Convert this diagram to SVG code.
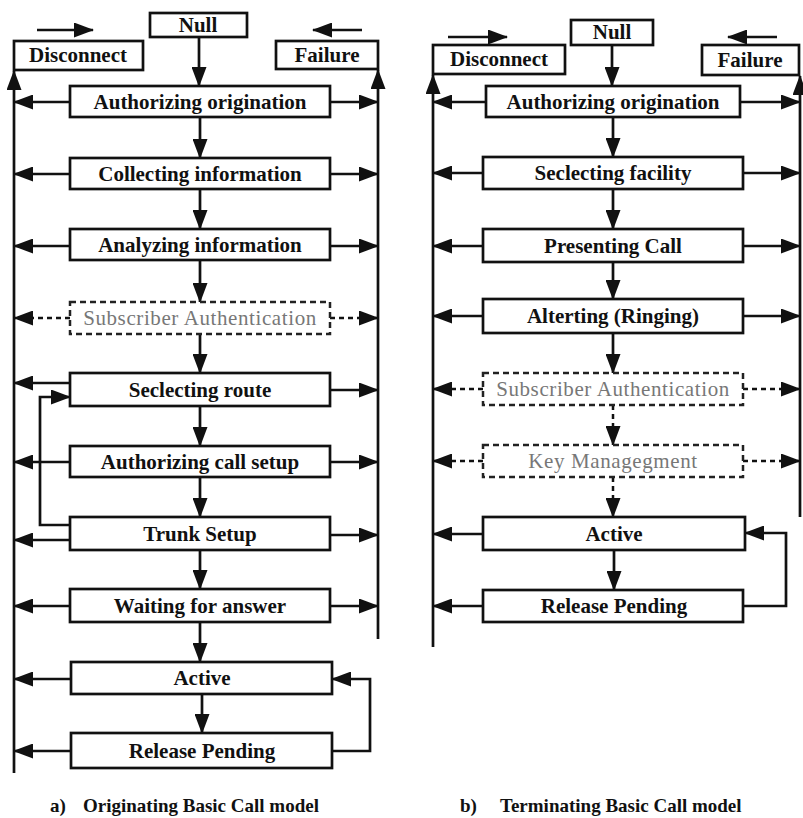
<svg xmlns="http://www.w3.org/2000/svg" width="803" height="818" viewBox="0 0 803 818">
<style>
.box{fill:#fff;stroke:#111;stroke-width:2.7}
.dbox{fill:#fff;stroke:#222;stroke-width:2.5;stroke-dasharray:6 4}
.t{font-family:"Liberation Serif","Times New Roman",serif;font-weight:bold;font-size:21px;text-anchor:middle;fill:#111}
.d{font-family:"Liberation Serif","Times New Roman",serif;font-size:21px;text-anchor:middle;fill:#777;letter-spacing:0.6px}
.cap{font-family:"Liberation Serif","Times New Roman",serif;font-weight:bold;font-size:19px;fill:#111}
.c{stroke:#111;stroke-width:2.7;fill:none;marker-end:url(#ah)}
.cd{stroke:#111;stroke-width:2.5;fill:none;stroke-dasharray:5 4;marker-end:url(#ah)}
</style>
<defs>
<marker id="ah" markerWidth="20" markerHeight="15" refX="19" refY="7.5" orient="auto" markerUnits="userSpaceOnUse">
<path d="M0,0 L20,7.5 L0,15 z" fill="#111"/>
</marker>
</defs>
<rect width="803" height="818" fill="#fff"/>

<g id="connectors">
<!-- left diagram -->
<line class="c" x1="37" y1="30" x2="93" y2="30"/>
<line class="c" x1="362" y1="30" x2="313" y2="30"/>
<line class="c" x1="14" y1="773" x2="14" y2="71"/>
<line class="c" x1="378" y1="639" x2="378" y2="70"/>
<line class="c" x1="199" y1="37" x2="199" y2="86"/>
<line class="c" x1="200" y1="117" x2="200" y2="158"/>
<line class="c" x1="200" y1="189" x2="200" y2="229"/>
<line class="c" x1="200" y1="260" x2="200" y2="302"/>
<line class="c" x1="200" y1="334" x2="200" y2="373"/>
<line class="c" x1="200" y1="406" x2="200" y2="446"/>
<line class="c" x1="200" y1="477" x2="200" y2="517"/>
<line class="c" x1="200" y1="550" x2="200" y2="589"/>
<line class="c" x1="200" y1="622" x2="200" y2="662"/>
<line class="c" x1="202" y1="694" x2="202" y2="733"/>
<line class="c" x1="70" y1="102" x2="14" y2="102"/>
<line class="c" x1="330" y1="102" x2="378" y2="102"/>
<line class="c" x1="70" y1="174" x2="14" y2="174"/>
<line class="c" x1="330" y1="174" x2="378" y2="174"/>
<line class="c" x1="70" y1="246" x2="14" y2="246"/>
<line class="c" x1="330" y1="246" x2="378" y2="246"/>
<line class="cd" x1="70" y1="318" x2="14" y2="318"/>
<line class="cd" x1="330" y1="318" x2="378" y2="318"/>
<line class="c" x1="70" y1="383" x2="14" y2="383"/>
<line class="c" x1="330" y1="390" x2="378" y2="390"/>
<line class="c" x1="70" y1="462" x2="14" y2="462"/>
<line class="c" x1="330" y1="462" x2="378" y2="462"/>
<line class="c" x1="70" y1="540" x2="14" y2="540"/>
<line class="c" x1="330" y1="535" x2="378" y2="535"/>
<polyline class="c" points="70,525 40,525 40,397 70,397"/>
<line class="c" x1="70" y1="606" x2="14" y2="606"/>
<line class="c" x1="330" y1="606" x2="378" y2="606"/>
<line class="c" x1="71" y1="679" x2="14" y2="679"/>
<line class="c" x1="71" y1="751" x2="14" y2="751"/>
<polyline class="c" points="332,751 370,751 370,679 332,679"/>

<!-- right diagram -->
<line class="c" x1="448" y1="37" x2="507" y2="37"/>
<line class="c" x1="777" y1="37" x2="728" y2="37"/>
<line class="c" x1="433" y1="647" x2="433" y2="75"/>
<line class="c" x1="800" y1="517" x2="800" y2="76"/>
<line class="c" x1="612" y1="45" x2="612" y2="86"/>
<line class="c" x1="613" y1="117" x2="613" y2="157"/>
<line class="c" x1="613" y1="189" x2="613" y2="229"/>
<line class="c" x1="613" y1="262" x2="613" y2="299"/>
<line class="c" x1="613" y1="333" x2="613" y2="373"/>
<line class="cd" x1="613" y1="405" x2="613" y2="445"/>
<line class="cd" x1="613" y1="477" x2="613" y2="517"/>
<line class="c" x1="614" y1="550" x2="614" y2="590"/>
<line class="c" x1="486" y1="102" x2="433" y2="102"/>
<line class="c" x1="740" y1="102" x2="800" y2="102"/>
<line class="c" x1="483" y1="173" x2="433" y2="173"/>
<line class="c" x1="743" y1="173" x2="800" y2="173"/>
<line class="c" x1="483" y1="246" x2="433" y2="246"/>
<line class="c" x1="743" y1="246" x2="800" y2="246"/>
<line class="c" x1="483" y1="316" x2="433" y2="316"/>
<line class="c" x1="743" y1="316" x2="800" y2="316"/>
<line class="cd" x1="483" y1="389" x2="433" y2="389"/>
<line class="cd" x1="743" y1="389" x2="800" y2="389"/>
<line class="cd" x1="483" y1="461" x2="433" y2="461"/>
<line class="cd" x1="743" y1="461" x2="800" y2="461"/>
<line class="c" x1="483" y1="534" x2="433" y2="534"/>
<line class="c" x1="483" y1="606" x2="433" y2="606"/>
<polyline class="c" points="743,606 786,606 786,533 745,533"/>
</g>

<!-- left nodes -->
<g id="a-null"><rect class="box" x="150" y="13" width="97" height="24"/><text class="t" x="198" y="32">Null</text></g>
<g id="a-disconnect"><rect class="box" x="14" y="41" width="129" height="29"/><text class="t" x="78" y="62">Disconnect</text></g>
<g id="a-failure"><rect class="box" x="276" y="41" width="102" height="28"/><text class="t" x="327" y="62">Failure</text></g>
<g id="a-auth-orig"><rect class="box" x="70" y="86" width="260" height="31"/><text class="t" x="200" y="109">Authorizing origination</text></g>
<g id="a-collecting"><rect class="box" x="70" y="158" width="260" height="31"/><text class="t" x="200" y="181">Collecting information</text></g>
<g id="a-analyzing"><rect class="box" x="70" y="229" width="260" height="31"/><text class="t" x="200" y="252">Analyzing information</text></g>
<g id="a-subauth"><rect class="dbox" x="70" y="302" width="260" height="32"/><text class="d" x="200" y="325">Subscriber Authentication</text></g>
<g id="a-route"><rect class="box" x="70" y="373" width="260" height="33"/><text class="t" x="200" y="397">Seclecting route</text></g>
<g id="a-auth-call"><rect class="box" x="70" y="446" width="260" height="31"/><text class="t" x="200" y="469">Authorizing call setup</text></g>
<g id="a-trunk"><rect class="box" x="70" y="517" width="260" height="33"/><text class="t" x="200" y="541">Trunk Setup</text></g>
<g id="a-waiting"><rect class="box" x="70" y="589" width="260" height="33"/><text class="t" x="200" y="613">Waiting for answer</text></g>
<g id="a-active"><rect class="box" x="71" y="662" width="261" height="32"/><text class="t" x="202" y="685">Active</text></g>
<g id="a-release"><rect class="box" x="71" y="733" width="261" height="35"/><text class="t" x="202" y="758">Release Pending</text></g>

<!-- right nodes -->
<g id="b-null"><rect class="box" x="571" y="20" width="82" height="25"/><text class="t" x="612" y="39">Null</text></g>
<g id="b-disconnect"><rect class="box" x="433" y="45" width="132" height="29"/><text class="t" x="499" y="66">Disconnect</text></g>
<g id="b-failure"><rect class="box" x="702" y="45" width="97" height="30"/><text class="t" x="750" y="67">Failure</text></g>
<g id="b-auth-orig"><rect class="box" x="486" y="86" width="254" height="31"/><text class="t" x="613" y="109">Authorizing origination</text></g>
<g id="b-facility"><rect class="box" x="483" y="157" width="260" height="32"/><text class="t" x="613" y="180">Seclecting facility</text></g>
<g id="b-presenting"><rect class="box" x="483" y="229" width="260" height="33"/><text class="t" x="613" y="253">Presenting Call</text></g>
<g id="b-alerting"><rect class="box" x="483" y="299" width="260" height="34"/><text class="t" x="613" y="323">Alterting (Ringing)</text></g>
<g id="b-subauth"><rect class="dbox" x="483" y="373" width="260" height="32"/><text class="d" x="613" y="396">Subscriber Authentication</text></g>
<g id="b-keymgmt"><rect class="dbox" x="483" y="445" width="260" height="32"/><text class="d" x="613" y="468">Key Managegment</text></g>
<g id="b-active"><rect class="box" x="483" y="517" width="262" height="33"/><text class="t" x="614" y="541">Active</text></g>
<g id="b-release"><rect class="box" x="483" y="590" width="260" height="32"/><text class="t" x="614" y="613">Release Pending</text></g>

<g id="captions">
<text class="cap" x="50" y="812">a)</text>
<text class="cap" x="83" y="812">Originating Basic Call model</text>
<text class="cap" x="460" y="812">b)</text>
<text class="cap" x="500" y="812">Terminating Basic Call model</text>
</g>
</svg>
